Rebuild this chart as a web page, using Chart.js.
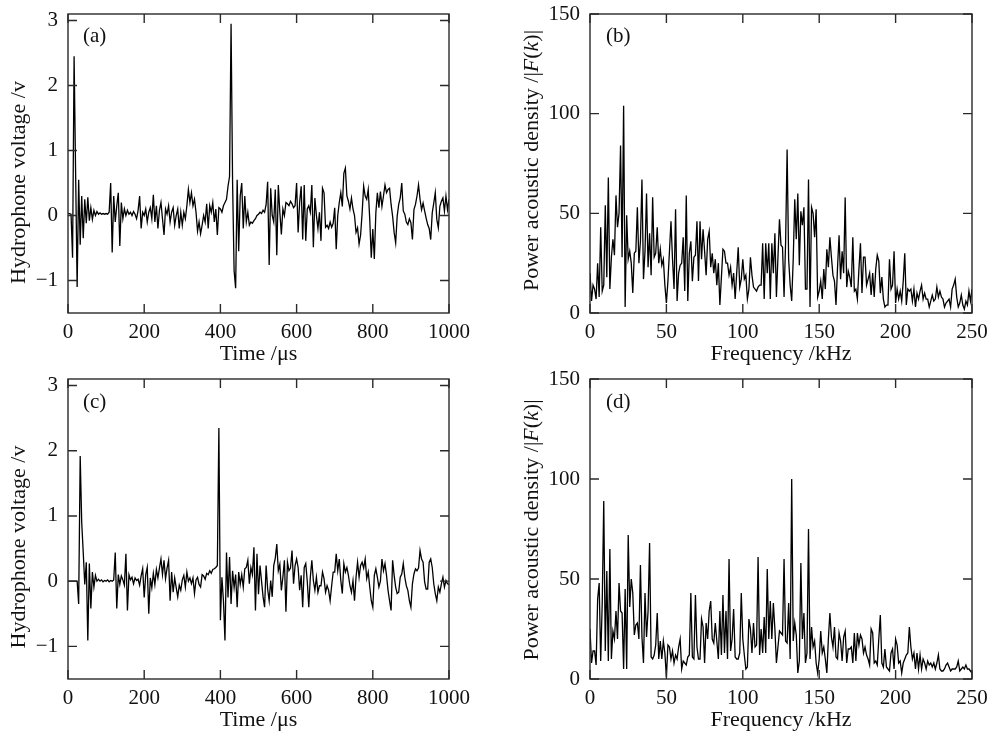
<!DOCTYPE html>
<html>
<head>
<meta charset="utf-8">
<script src="https://cdn.jsdelivr.net/npm/chart.js@4.4.1/dist/chart.umd.min.js"></script>
<style>
  body { margin: 0; background: #fff; }
  #fig { position: relative; width: 996px; height: 732px; }
  #fig canvas { position: absolute; }
</style>
</head>
<body>
<div id="fig">
  <canvas id="panelA" width="498" height="366" style="left:0;top:0"></canvas>
  <canvas id="panelB" width="498" height="366" style="left:498px;top:0"></canvas>
  <canvas id="panelC" width="498" height="366" style="left:0;top:366px"></canvas>
  <canvas id="panelD" width="498" height="366" style="left:498px;top:366px"></canvas>
</div>
<script>
// sampling steps of the traces (at this spacing)
const timeStepUs = 4;
const freqStepKHz = 1;

// hydrophone voltage (V), t = 0, 4, 8 ... 1000 us
const voltageA = [
  0.03, 0.03, 0.02, -0.65, 2.45, 0.65, -1.1, 0.55, -0.45, 0.3, -0.35, 0.25, -0.12, 0.28, -0.08, 0.12, -0.06, 0.08, 0.0, 0.06, 0.02, 0.04, 0.02, 0.03, 0.02,
  0.03, 0.02, 0.05, 0.5, -0.57, 0.3, -0.1, 0.15, 0.35, -0.47, 0.2, -0.05, 0.1, 0.0, 0.08, 0.02, 0.05, 0.0, 0.06, 0.02, -0.05, 0.08, 0.3, -0.2, 0.05,
  0.0, 0.1, -0.1, 0.05, 0.12, -0.05, 0.32, -0.1, 0.15, -0.2, 0.08, 0.2, -0.05, -0.3, 0.1, 0.02, 0.15, -0.1, 0.05, 0.12, -0.15, 0.0, 0.1, -0.2, 0.05,
  -0.15, 0.05, -0.05, 0.15, 0.4, 0.2, 0.35, 0.15, 0.25, 0.05, -0.24, -0.1, -0.28, -0.15, 0.0, -0.1, 0.18, -0.2, 0.15, 0.05, 0.2, -0.1, 0.1, -0.3, 0.12,
  0.1, 0.05, 0.15, 0.2, 0.25, 0.45, 0.6, 2.95, 0.5, -0.85, -1.12, 0.55, -0.55, 0.3, 0.5, -0.2, 0.3, -0.1, 0.05, -0.15, -0.1, -0.12, -0.08, -0.05, 0.0,
  0.02, 0.05, 0.03, 0.08, 0.05, 0.17, 0.52, -0.76, 0.42, 0.0, -0.1, 0.4, -0.61, 0.47, 0.05, -0.29, 0.1, 0.0, 0.2, 0.18, 0.15, 0.22, 0.18, 0.12, 0.15,
  0.5, -0.26, 0.2, 0.45, -0.37, 0.47, -0.39, 0.1, 0.15, 0.05, 0.47, -0.49, 0.27, 0.0, -0.2, 0.05, -0.39, 0.42, 0.35, -0.18, -0.15, -0.2, -0.1, -0.18, -0.12,
  0.12, -0.52, 0.0, 0.2, 0.35, 0.14, 0.65, 0.73, 0.3, 0.22, 0.1, 0.27, 0.1, 0.0, -0.26, -0.19, -0.44, -0.3, 0.04, 0.45, 0.3, 0.25, 0.4, -0.06, -0.65,
  -0.21, -0.67, 0.04, 0.35, 0.12, 0.37, 0.14, 0.3, 0.47, 0.35, 0.4, 0.42, 0.17, -0.01, -0.26, -0.42, -0.01, 0.17, 0.27, 0.5, 0.07, 0.02, -0.1, -0.14, -0.05,
  -0.11, -0.37, 0.09, 0.17, 0.3, 0.47, 0.25, 0.09, 0.19, 0.07, -0.04, -0.14, -0.2, -0.37, 0.04, 0.19, 0.35, -0.06, -0.19, 0.14, 0.22, 0.27, 0.07, 0.3, 0.09, 0.25
];

const voltageC = [
  0.0, 0.0, 0.0, 0.0, 0.0, 0.0, 0.0, -0.35, 1.92, 0.9, 0.44, -0.05, 0.29, -0.91, 0.27, -0.42, 0.14, -0.09, 0.09, 0.0, 0.03, 0.0, 0.02, -0.01, 0.01,
  0.0, 0.02, -0.01, 0.01, 0.0, 0.02, 0.44, -0.42, 0.1, -0.05, 0.08, 0.02, -0.06, 0.42, -0.45, 0.1, 0.02, 0.06, -0.04, 0.05, 0.01, 0.03, -0.06, 0.08, 0.19,
  -0.25, 0.1, 0.21, -0.5, 0.05, -0.1, 0.12, -0.05, 0.18, 0.05, 0.2, 0.34, 0.1, 0.32, 0.04, 0.2, 0.32, -0.3, 0.14, -0.17, 0.05, -0.1, -0.24, -0.06, -0.14,
  0.02, 0.09, -0.09, 0.14, 0.0, 0.05, -0.04, 0.05, -0.19, 0.02, 0.06, -0.05, -0.09, 0.1, 0.08, 0.03, 0.12, 0.1, 0.16, 0.12, 0.18, 0.19, 0.21, 0.24, 2.35,
  -0.6, 0.06, -0.3, -0.91, 0.44, -0.25, 0.37, -0.35, 0.16, -0.1, 0.1, -0.4, 0.14, -0.05, 0.1, -0.09, 0.19, 0.21, 0.32, -0.04, 0.21, 0.1, 0.52, -0.45, 0.42,
  -0.2, 0.24, 0.0, -0.24, -0.4, 0.24, -0.12, -0.3, 0.01, -0.24, 0.24, 0.35, 0.57, 0.16, 0.26, -0.14, 0.06, 0.32, -0.47, 0.29, 0.16, 0.2, 0.47, -0.04, 0.24,
  0.34, 0.21, -0.14, 0.09, -0.4, 0.21, 0.27, 0.0, -0.4, 0.06, 0.32, 0.01, -0.14, 0.06, -0.17, -0.07, -0.07, 0.14, 0.04, -0.17, -0.07, -0.14, -0.3, -0.07, 0.14,
  0.14, 0.42, 0.16, 0.34, 0.01, -0.19, 0.27, 0.14, 0.21, 0.09, -0.07, -0.17, 0.01, -0.3, 0.06, 0.29, 0.06, 0.24, 0.29, 0.2, 0.34, 0.04, 0.14, -0.09, -0.3,
  -0.4, 0.09, 0.19, 0.06, -0.09, 0.0, 0.34, 0.16, 0.27, 0.09, -0.14, -0.3, -0.45, 0.32, 0.09, -0.09, -0.19, -0.17, 0.06, 0.11, 0.27, 0.06, -0.07, -0.14, -0.3,
  -0.4, -0.04, 0.11, 0.19, 0.16, 0.2, 0.47, 0.34, 0.29, -0.01, -0.12, -0.12, 0.29, 0.34, 0.21, -0.04, -0.19, -0.3, -0.09, -0.17, -0.04, 0.06, -0.09, 0.01, -0.04, -0.05
];

// power acoustic density |F(k)|, f = 0, 1, 2 ... 250 kHz
const densityB = [
  20, 6, 14, 12, 7, 25, 8, 43, 11, 14, 54, 18, 68, 12, 28, 37, 29, 59, 43, 50, 84, 28, 104, 3, 49,
  27, 31, 25, 10, 30, 31, 53, 25, 36, 67, 17, 31, 60, 23, 40, 19, 58, 28, 30, 43, 25, 32, 24, 27, 14,
  5, 16, 31, 46, 27, 12, 52, 6, 20, 24, 25, 38, 11, 59, 6, 30, 36, 16, 28, 29, 46, 16, 46, 27, 42,
  31, 19, 37, 41, 23, 30, 20, 27, 14, 25, 4, 18, 32, 31, 25, 25, 19, 23, 14, 20, 7, 20, 33, 13, 17,
  27, 17, 19, 7, 12, 28, 19, 13, 12, 11, 13, 14, 14, 35, 7, 35, 20, 35, 7, 35, 20, 40, 8, 28, 47,
  34, 33, 8, 35, 82, 27, 14, 6, 27, 57, 37, 60, 24, 51, 44, 53, 12, 12, 67, 3, 53, 50, 38, 52, 8,
  11, 16, 7, 22, 12, 32, 23, 38, 28, 19, 16, 4, 23, 39, 17, 31, 20, 58, 13, 21, 18, 13, 38, 11, 12,
  7, 22, 35, 10, 28, 28, 14, 17, 20, 9, 20, 8, 22, 29, 26, 10, 18, 7, 3, 4, 4, 27, 12, 14, 31,
  5, 12, 7, 11, 6, 16, 30, 4, 12, 11, 12, 6, 12, 3, 10, 7, 11, 14, 7, 10, 7, 7, 3, 6, 9,
  6, 7, 13, 8, 11, 8, 7, 3, 5, 6, 7, 3, 12, 14, 17, 8, 3, 5, 9, 4, 2, 6, 4, 11, 6, 12
];

const densityD = [
  25, 8, 14, 14, 7, 40, 48, 9, 38, 89, 14, 54, 9, 65, 10, 24, 20, 34, 20, 48, 34, 33, 5, 45, 5,
  72, 36, 50, 43, 22, 27, 28, 20, 57, 21, 8, 43, 21, 34, 68, 11, 10, 12, 17, 33, 10, 19, 10, 19, 13,
  1, 17, 16, 10, 14, 8, 12, 10, 16, 20, 5, 9, 8, 7, 11, 12, 43, 11, 10, 42, 16, 10, 10, 30, 26,
  8, 28, 20, 34, 39, 20, 18, 28, 19, 10, 34, 12, 42, 13, 34, 10, 60, 14, 20, 35, 11, 10, 10, 13, 43,
  20, 12, 5, 6, 30, 25, 13, 28, 16, 17, 61, 12, 25, 13, 31, 13, 55, 20, 39, 20, 38, 25, 8, 16, 24,
  23, 22, 60, 19, 18, 38, 10, 100, 19, 28, 22, 3, 9, 58, 20, 33, 8, 13, 75, 10, 26, 16, 19, 8, 3,
  10, 24, 13, 16, 10, 3, 20, 33, 21, 16, 26, 11, 10, 23, 19, 9, 21, 24, 8, 15, 15, 16, 8, 23, 9,
  23, 17, 22, 20, 13, 16, 12, 10, 7, 25, 23, 8, 9, 7, 20, 32, 8, 6, 15, 6, 5, 4, 13, 15, 5,
  20, 17, 8, 9, 3, 8, 10, 12, 13, 26, 16, 10, 13, 5, 13, 5, 12, 5, 10, 8, 5, 9, 7, 8, 6,
  8, 5, 8, 12, 5, 4, 4, 5, 7, 8, 6, 4, 5, 5, 5, 6, 9, 4, 5, 6, 5, 7, 5, 5, 4, 3
];

// axis ticks
const timeTicks = [0, 200, 400, 600, 800, 1000];
const voltTicks = [-1, 0, 1, 2, 3];
const freqTicks = [0, 50, 100, 150, 200, 250];
const densityTicks = [0, 50, 100, 150];

const SERIF = '"Liberation Serif", "Times New Roman", serif';
Chart.defaults.font.family = SERIF;
Chart.defaults.font.size = 21;
Chart.defaults.color = '#111';

// frame, inward ticks on all four sides, panel tag, y title with italic parts
const framePlugin = {
  id: 'frame',
  afterDraw(chart, args, opts) {
    const { ctx, chartArea: a, scales: { x, y } } = chart;
    ctx.save();
    ctx.strokeStyle = '#2a2a2a';
    ctx.lineWidth = 1.4;
    ctx.strokeRect(a.left, a.top, a.right - a.left, a.bottom - a.top);
    ctx.beginPath();
    const len = 9;
    x.ticks.forEach(t => {
      const px = x.getPixelForValue(t.value);
      ctx.moveTo(px, a.bottom); ctx.lineTo(px, a.bottom - len);
      ctx.moveTo(px, a.top); ctx.lineTo(px, a.top + len);
    });
    y.ticks.forEach(t => {
      const py = y.getPixelForValue(t.value);
      ctx.moveTo(a.left, py); ctx.lineTo(a.left + len, py);
      ctx.moveTo(a.right, py); ctx.lineTo(a.right - len, py);
    });
    ctx.stroke();

    ctx.fillStyle = '#111';
    ctx.textBaseline = 'middle';
    ctx.textAlign = 'left';
    ctx.font = '21px ' + SERIF;
    ctx.fillText(opts.tag, a.left + opts.tagDx, a.top + opts.tagDy);

    // rotated y title
    const segs = opts.yTitle;
    const fontOf = it => (it ? 'italic ' : '') + '22px ' + SERIF;
    const widths = segs.map(([t, it]) => { ctx.font = fontOf(it); return ctx.measureText(t).width; });
    const total = widths.reduce((s, w) => s + w, 0);
    ctx.translate(opts.yTitleX, (a.top + a.bottom) / 2 + opts.yTitleShift);
    ctx.rotate(-Math.PI / 2);
    let cx = -total / 2;
    segs.forEach(([t, it], i) => {
      ctx.font = fontOf(it);
      ctx.fillText(t, cx, 0);
      cx += widths[i];
    });
    ctx.restore();
  }
};

const minus = v => String(v).replace('-', '\u2212');

function makePanel(id, p) {
  const points = p.values.map((v, i) => ({ x: i * p.step, y: v }));
  return new Chart(document.getElementById(id), {
    type: 'line',
    data: {
      datasets: [{
        data: points,
        borderColor: '#000',
        borderWidth: 1.3,
        pointRadius: 0,
        tension: 0,
        fill: false
      }]
    },
    options: {
      responsive: false,
      animation: false,
      parsing: false,
      layout: { padding: { top: p.padTop, right: p.padRight, left: 0, bottom: 0 } },
      plugins: {
        legend: { display: false },
        tooltip: { enabled: false },
        frame: p.frame
      },
      scales: {
        x: {
          type: 'linear',
          min: p.xMin, max: p.xMax,
          grid: { display: false, drawTicks: false },
          border: { display: false },
          afterBuildTicks: s => { s.ticks = p.xTicks.map(v => ({ value: v })); },
          afterFit: s => { s.height = 53; },
          ticks: { padding: 7, maxRotation: 0, callback: minus },
          title: {
            display: true,
            text: p.xTitle,
            font: { size: 22, lineHeight: 1 },
            padding: { top: 0, bottom: 1 }
          }
        },
        y: {
          type: 'linear',
          min: p.yMin, max: p.yMax,
          grid: { display: false, drawTicks: false },
          border: { display: false },
          afterBuildTicks: s => { s.ticks = p.yTicks.map(v => ({ value: v })); },
          afterFit: s => { s.width = p.yWidth; s.paddingTop = 0; s.paddingBottom = 0; },
          ticks: { padding: 10, callback: minus }
        }
      }
    },
    plugins: [framePlugin]
  });
}

const voltTitle = [['Hydrophone voltage /v', false]];
const densTitle = [['Power acoustic density /|', false], ['F', true], ['(', false], ['k', true], [')|', false]];

makePanel('panelA', {
  values: voltageA, step: timeStepUs,
  xMin: 0, xMax: 1000, xTicks: timeTicks, xTitle: 'Time /\u03bcs',
  yMin: -1.5, yMax: 3.1, yTicks: voltTicks,
  yWidth: 68, padTop: 14, padRight: 49,
  frame: { tag: '(a)', tagDx: 15, tagDy: 22, yTitle: voltTitle, yTitleX: 19, yTitleShift: 19 }
});

makePanel('panelB', {
  values: densityB, step: freqStepKHz,
  xMin: 0, xMax: 250, xTicks: freqTicks, xTitle: 'Frequency /kHz',
  yMin: 0, yMax: 150, yTicks: densityTicks,
  yWidth: 92, padTop: 14, padRight: 24,
  frame: { tag: '(b)', tagDx: 16, tagDy: 22, yTitle: densTitle, yTitleX: 34, yTitleShift: -3 }
});

makePanel('panelC', {
  values: voltageC, step: timeStepUs,
  xMin: 0, xMax: 1000, xTicks: timeTicks, xTitle: 'Time /\u03bcs',
  yMin: -1.5, yMax: 3.1, yTicks: voltTicks,
  yWidth: 68, padTop: 13, padRight: 49,
  frame: { tag: '(c)', tagDx: 15, tagDy: 23, yTitle: voltTitle, yTitleX: 19, yTitleShift: 18 }
});

makePanel('panelD', {
  values: densityD, step: freqStepKHz,
  xMin: 0, xMax: 250, xTicks: freqTicks, xTitle: 'Frequency /kHz',
  yMin: 0, yMax: 150, yTicks: densityTicks,
  yWidth: 92, padTop: 13, padRight: 24,
  frame: { tag: '(d)', tagDx: 16, tagDy: 23, yTitle: densTitle, yTitleX: 34, yTitleShift: 1 }
});
</script>
</body>
</html>
